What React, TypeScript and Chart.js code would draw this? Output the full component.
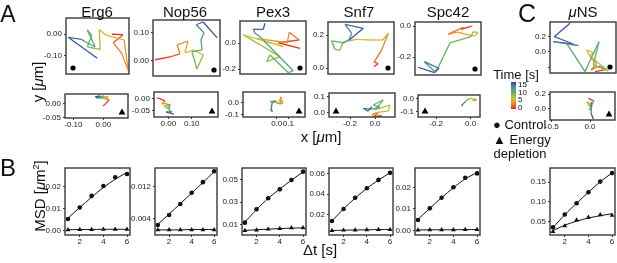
import React, { useEffect, useRef } from "react";
import { Chart, registerables } from "chart.js";
Chart.register(...registerables);

const FONT = "'Liberation Sans', Arial, Helvetica, sans-serif";

// ---------------- Panel A / C : trajectories (control, top row) ----------------
const erg6CtrlX = [0.078, 0.128, 0.085, 0.123, 0.153, 0.134, 0.052, 0.021, 0.025, -0.033, -0.013, -0.033, 0.002, -0.044, -0.059, -0.12, 0.012];
const erg6CtrlY = [-0.001, -0.003, -0.04, -0.088, -0.167, -0.027, -0.005, 0.021, -0.07, -0.058, -0.005, 0.018, -0.058, -0.035, -0.024, -0.015, -0.11];
const nop56CtrlX = [-0.013, 0.041, 0.076, 0.066, 0.105, 0.094, 0.126, 0.159, 0.137, 0.119, 0.155, 0.151, 0.162, 0.134, 0.159, 0.209];
const nop56CtrlY = [0.004, 0.014, 0.025, 0.057, 0.071, 0.029, 0.039, 0.021, -0.029, 0.032, 0.039, 0.075, 0.1, 0.129, 0.139, 0.082];
const pex3CtrlX = [0.212, 0.045, 0.206, 0.129, 0.114, -0.122, 0.083, -0.225, 0.058, -0.045, -0.019, 0.122, 0.16, -0.096, -0.135, -0.148, -0.071, -0.058];
const pex3CtrlY = [-0.041, 0.002, 0.023, 0.082, 0.002, 0.036, -0.028, 0.062, -0.105, -0.144, -0.092, -0.228, -0.213, 0.048, 0.075, 0.105, 0.105, 0.152];
const snf7CtrlX = [0.079, 0.105, 0.079, 0.125, 0.165, 0.131, 0.055, -0.026, -0.107, -0.127, -0.158, -0.178, -0.103, -0.071, -0.056, -0.097, 0.014, -0.071];
const snf7CtrlY = [0.008, 0.028, 0.036, 0.109, 0.21, 0.17, 0.17, 0.174, 0.159, 0.109, 0.113, 0.165, 0.153, 0.174, 0.21, 0.265, 0.241, 0.17];
const spc42CtrlX = [0.166, 0.097, 0.112, 0.015, 0.075, 0.123, 0.183, 0.208, 0.176, 0.161, 0.026, -0.017, -0.05, -0.071, -0.14, -0.045, -0.075, -0.179];
const spc42CtrlY = [0.0, -0.021, -0.008, -0.052, -0.039, -0.052, -0.065, -0.043, -0.037, -0.069, -0.108, -0.198, -0.266, -0.295, -0.23, -0.273, -0.301, -0.266];
const munsCtrlX = [0.181, 0.332, 0.232, 0.129, 0.203, 0.138, 0.074, 0.159, 0.116, 0.352, 0.31, 0.159, 0.232, 0.052, -0.185, -0.035, -0.357, -0.099, -0.345, -0.142];
const munsCtrlY = [-0.254, -0.223, -0.181, -0.232, -0.146, -0.094, 0.026, -0.009, -0.052, -0.245, -0.223, -0.168, 0.133, -0.252, 0.112, 0.081, 0.133, 0.103, 0.197, 0.37];

// ---------------- trajectories (energy depletion, bottom row) ----------------
const erg6EdX = [-0.001, 0.019, 0.006, 0.016, -0.001, 0.009, -0.008, 0.002, -0.014, -0.004, -0.024, -0.011, -0.028];
const erg6EdY = [-0.01, 0.012, 0.019, 0.023, 0.023, 0.015, 0.019, 0.026, 0.023, 0.019, 0.019, 0.026, 0.023];
const nop56EdX = [-0.048, -0.014, -0.027, -0.006, -0.001, -0.018, 0.007, 0.003, 0.016, -0.01, 0.024];
const nop56EdY = [0.006, -0.008, -0.021, -0.017, -0.042, -0.029, -0.021, -0.046, -0.054, -0.054, -0.063];
const pex3EdX = [0.032, 0.041, 0.024, 0.054, 0.037, 0.011, 0.011, -0.015, -0.057, -0.006, -0.04, -0.049, -0.032];
const pex3EdY = [0.044, 0.023, -0.014, -0.006, 0.036, 0.003, -0.014, 0.011, 0.003, 0.011, -0.006, -0.072, -0.072];
const snf7EdX = [0.054, -0.014, 0.026, -0.026, 0.014, 0.106, 0.12, 0.0, 0.066, -0.014, 0.04, -0.026, -0.094, -0.056, -0.024];
const snf7EdY = [-0.022, -0.028, -0.006, -0.017, 0.0, 0.008, 0.047, 0.015, 0.079, 0.047, 0.034, 0.021, 0.026, 0.008, 0.036];
const spc42EdX = [0.013, 0.031, 0.012, 0.036, -0.004, -0.023, -0.033, -0.045, -0.049];
const spc42EdY = [-0.005, -0.013, -0.016, -0.009, -0.001, -0.013, -0.028, -0.043, -0.05];
const munsEdX = [-0.022, 0.052, 0.0, -0.043, 0.022, -0.013, 0.022, 0.0, 0.026, 0.013, 0.043];
const munsEdY = [0.141, 0.103, 0.025, 0.09, 0.062, -0.021, 0.007, 0.052, 0.086, -0.062, -0.145];

// ---------------- Panel B / C : MSD ----------------
const dt = [1, 2, 3, 4, 5, 6];
const erg6MsdCtrl = [0.0053, 0.0105, 0.0158, 0.0203, 0.0243, 0.0258];
const erg6MsdEd = [0.0004, 0.0005, 0.0005, 0.0006, 0.0006, 0.0006];
const erg6FitCtrl = [0.0057, 0.0105, 0.0152, 0.0196, 0.0234, 0.0265];
const erg6FitEd = [0.0004, 0.0005, 0.0005, 0.0006, 0.0006, 0.0006];
const nop56MsdCtrl = [0.0025, 0.005, 0.0077, 0.0105, 0.0131, 0.0158];
const nop56MsdEd = [0.0013, 0.0013, 0.0013, 0.0013, 0.0013, 0.0013];
const nop56FitCtrl = [0.0027, 0.0052, 0.0078, 0.0104, 0.013, 0.0157];
const nop56FitEd = [0.0013, 0.0013, 0.0013, 0.0014, 0.0014, 0.0014];
const pex3MsdCtrl = [0.012, 0.0238, 0.0334, 0.0412, 0.0494, 0.0567];
const pex3MsdEd = [0.005, 0.0055, 0.0063, 0.0068, 0.0074, 0.0075];
const pex3FitCtrl = [0.0125, 0.0235, 0.0333, 0.0415, 0.0492, 0.0565];
const pex3FitEd = [0.0052, 0.0058, 0.0063, 0.0068, 0.0072, 0.0075];
const snf7MsdCtrl = [0.0142, 0.0258, 0.0366, 0.0456, 0.0537, 0.0606];
const snf7MsdEd = [0.005, 0.0054, 0.0056, 0.0058, 0.006, 0.0061];
const snf7FitCtrl = [0.0143, 0.0258, 0.0363, 0.0455, 0.0535, 0.0605];
const snf7FitEd = [0.0051, 0.0054, 0.0056, 0.0058, 0.006, 0.0061];
const spc42MsdCtrl = [0.0049, 0.0103, 0.0152, 0.02, 0.0244, 0.0264];
const spc42MsdEd = [0.0003, 0.0004, 0.0004, 0.0004, 0.0005, 0.0005];
const spc42FitCtrl = [0.0052, 0.0103, 0.0152, 0.0198, 0.0239, 0.0268];
const spc42FitEd = [0.0003, 0.0004, 0.0004, 0.0004, 0.0005, 0.0005];
const munsMsdCtrl = [0.0357, 0.068, 0.0967, 0.1246, 0.1515, 0.173];
const munsMsdEd = [0.0246, 0.039, 0.054, 0.061, 0.067, 0.066];
const munsFitCtrl = [0.0345, 0.0675, 0.0965, 0.1245, 0.151, 0.1735];
const munsFitEd = [0.027, 0.041, 0.051, 0.059, 0.065, 0.07];

// ---------------- tick labels ----------------
const msdXTicks = [2, 4, 6];
const msdXLabels = ["2", "4", "6"];
const colorbarLabels = ["15", "10", "5", "0"];

// ---------------- colour scale (time 0 -> 15 s) ----------------
const TIME_STOPS: [number, number[]][] = [
  [0, [226, 38, 34]],
  [0.18, [240, 128, 40]],
  [0.38, [212, 194, 56]],
  [0.58, [106, 184, 76]],
  [0.78, [78, 156, 150]],
  [1, [58, 70, 170]],
];
function timeColor(f: number) {
  const t = Math.max(0, Math.min(1, f));
  for (let i = 1; i < TIME_STOPS.length; i++) {
    const [t1, c1] = TIME_STOPS[i];
    const [t0, c0] = TIME_STOPS[i - 1];
    if (t <= t1) {
      const u = (t - t0) / (t1 - t0);
      const c = c0.map((v, k) => Math.round(v + (c1[k] - v) * u));
      return `rgb(${c[0]},${c[1]},${c[2]})`;
    }
  }
  return "rgb(58,70,170)";
}

// ---------------- layout ----------------
const P = 10;
const AW = 30;
const AH = 11;

const framePlugin = {
  id: "frame",
  afterDatasetsDraw(chart: any, _args: any, opts: any) {
    const { ctx, chartArea: a } = chart;
    ctx.save();
    ctx.strokeStyle = "#3a3a3a";
    ctx.lineWidth = 1.4;
    ctx.strokeRect(a.left, a.top, a.right - a.left, a.bottom - a.top);
    if (opts && opts.marker) {
      const cx = opts.corner === "bl" ? a.left + 7 : a.right - 6;
      const cy = a.bottom - 6;
      ctx.fillStyle = "#000";
      ctx.beginPath();
      if (opts.marker === "circle") {
        ctx.arc(cx, cy, 2.6, 0, Math.PI * 2);
      } else {
        ctx.moveTo(cx, cy - 3.6);
        ctx.lineTo(cx + 3.4, cy + 2.4);
        ctx.lineTo(cx - 3.4, cy + 2.4);
        ctx.closePath();
      }
      ctx.fill();
    }
    ctx.restore();
  },
};

function yScale(min: number, max: number, ticks: number[], labels: string[]) {
  return {
    type: "linear",
    min,
    max,
    afterBuildTicks: (s: any) => {
      s.ticks = ticks.map((v) => ({ value: v }));
    },
    afterFit: (s: any) => {
      s.width = AW;
    },
    ticks: {
      autoSkip: false,
      padding: 2,
      color: "#222",
      font: { size: 8, family: FONT },
      callback: (_v: any, i: number) => labels[i],
    },
    grid: { display: true, drawOnChartArea: false, drawTicks: true, tickLength: 2, color: "#333" },
    border: { display: false },
  };
}

function xScale(min: number, max: number, ticks?: number[], labels?: string[]) {
  if (!ticks) return { type: "linear", min, max, display: false };
  return {
    type: "linear",
    min,
    max,
    afterBuildTicks: (s: any) => {
      s.ticks = ticks.map((v) => ({ value: v }));
    },
    afterFit: (s: any) => {
      s.height = AH;
    },
    ticks: {
      autoSkip: false,
      maxRotation: 0,
      padding: 0,
      color: "#222",
      font: { size: 8, family: FONT },
      callback: (_v: any, i: number) => (labels ? labels[i] : ""),
    },
    grid: { display: true, drawOnChartArea: false, drawTicks: true, tickLength: 2, color: "#333" },
    border: { display: false },
  };
}

type Box = { x: number; y: number; w: number; h: number };

type TrajSpec = {
  box: Box;
  xr: [number, number];
  yr: [number, number];
  xs: number[];
  ys: number[];
  yT: number[];
  yL: string[];
  xT?: number[];
  xL?: string[];
  marker: string;
  corner: string;
};

const trajSpecs: TrajSpec[] = [
  { box: { x: 66, y: 18, w: 63, h: 56 }, xr: [-0.13, 0.156], yr: [-0.182, 0.073], xs: erg6CtrlX, ys: erg6CtrlY, yT: [0, -0.1], yL: ["0.00", "-0.10"], marker: "circle", corner: "bl" },
  { box: { x: 153, y: 20, w: 67, h: 56 }, xr: [-0.02, 0.219], yr: [-0.054, 0.146], xs: nop56CtrlX, ys: nop56CtrlY, yT: [0.1, 0], yL: ["0.10", "0.00"], marker: "circle", corner: "br" },
  { box: { x: 240, y: 21, w: 66, h: 53 }, xr: [-0.25, 0.258], yr: [-0.238, 0.169], xs: pex3CtrlX, ys: pex3CtrlY, yT: [0, -0.2], yL: ["0.0", "-0.2"], marker: "circle", corner: "br" },
  { box: { x: 328, y: 22, w: 66, h: 52 }, xr: [-0.2, 0.2], yr: [-0.036, 0.279], xs: snf7CtrlX, ys: snf7CtrlY, yT: [0.2, 0], yL: ["0.2", "0.0"], marker: "circle", corner: "br" },
  { box: { x: 415, y: 22, w: 66, h: 53 }, xr: [-0.2, 0.226], yr: [-0.316, 0.026], xs: spc42CtrlX, ys: spc42CtrlY, yT: [0, -0.2], yL: ["0.0", "-0.2"], marker: "circle", corner: "br" },
  { box: { x: 550, y: 22, w: 66, h: 51 }, xr: [-0.4, 0.452], yr: [-0.271, 0.387], xs: munsCtrlX, ys: munsCtrlY, yT: [0.2, 0, -0.2], yL: ["0.2", "0.0", ""], marker: "circle", corner: "br" },

  { box: { x: 65, y: 94, w: 63, h: 24 }, xr: [-0.128, 0.082], yr: [-0.052, 0.033], xs: erg6EdX, ys: erg6EdY, yT: [0, -0.05], yL: ["0.00", "-0.05"], xT: [-0.1, 0], xL: ["-0.10", "0.00"], marker: "triangle", corner: "br" },
  { box: { x: 154, y: 92, w: 64, h: 25 }, xr: [-0.061, 0.212], yr: [-0.075, 0.029], xs: nop56EdX, ys: nop56EdY, yT: [0, -0.05], yL: ["0.00", "-0.05"], xT: [0, 0.1], xL: ["0.00", "0.10"], marker: "triangle", corner: "br" },
  { box: { x: 243, y: 92, w: 62, h: 25 }, xr: [-0.288, 0.242], yr: [-0.122, 0.086], xs: pex3EdX, ys: pex3EdY, yT: [0, -0.1], yL: ["0.0", "-0.1"], xT: [0, 0.1], xL: ["0.0", "0.1"], marker: "triangle", corner: "br" },
  { box: { x: 329, y: 93, w: 66, h: 24 }, xr: [-0.368, 0.16], yr: [-0.03, 0.124], xs: snf7EdX, ys: snf7EdY, yT: [0.1, 0], yL: ["0.1", "0.0"], xT: [-0.2, 0], xL: ["-0.2", "0.0"], marker: "triangle", corner: "bl" },
  { box: { x: 418, y: 95, w: 62, h: 22 }, xr: [-0.305, 0.054], yr: [-0.14, 0.025], xs: spc42EdX, ys: spc42EdY, yT: [0, -0.1], yL: ["0.0", "-0.1"], xT: [-0.2, 0], xL: ["-0.2", "0.0"], marker: "triangle", corner: "bl" },
  { box: { x: 550, y: 92, w: 65, h: 28 }, xr: [-0.522, 0.326], yr: [-0.159, 0.228], xs: munsEdX, ys: munsEdY, yT: [0.2, 0], yL: ["0.2", "0.0"], xT: [-0.5, 0], xL: ["-0.5", "0.0"], marker: "triangle", corner: "br" },
];

type MsdSpec = {
  box: Box;
  yr: [number, number];
  ctrl: number[];
  ed: number[];
  fitCtrl: number[];
  fitEd: number[];
  yT: number[];
  yL: string[];
};

const msdSpecs: MsdSpec[] = [
  { box: { x: 65, y: 168, w: 65, h: 67 }, yr: [-0.002, 0.0285], ctrl: erg6MsdCtrl, ed: erg6MsdEd, fitCtrl: erg6FitCtrl, fitEd: erg6FitEd, yT: [0, 0.01, 0.02], yL: ["0.00", "0.01", "0.02"] },
  { box: { x: 155, y: 168, w: 62, h: 67 }, yr: [0.00004, 0.0166], ctrl: nop56MsdCtrl, ed: nop56MsdEd, fitCtrl: nop56FitCtrl, fitEd: nop56FitEd, yT: [0.004, 0.012], yL: ["0.004", "0.012"] },
  { box: { x: 242, y: 168, w: 64, h: 67 }, yr: [0.0012, 0.0599], ctrl: pex3MsdCtrl, ed: pex3MsdEd, fitCtrl: pex3FitCtrl, fitEd: pex3FitEd, yT: [0.01, 0.03, 0.05], yL: ["0.01", "0.03", "0.05"] },
  { box: { x: 329, y: 168, w: 64, h: 67 }, yr: [0.0008, 0.0651], ctrl: snf7MsdCtrl, ed: snf7MsdEd, fitCtrl: snf7FitCtrl, fitEd: snf7FitEd, yT: [0.02, 0.04, 0.06], yL: ["0.02", "0.04", "0.06"] },
  { box: { x: 415, y: 168, w: 65, h: 67 }, yr: [-0.002, 0.0289], ctrl: spc42MsdCtrl, ed: spc42MsdEd, fitCtrl: spc42FitCtrl, fitEd: spc42FitEd, yT: [0, 0.01, 0.02], yL: ["0.00", "0.01", "0.02"] },
  { box: { x: 550, y: 168, w: 65, h: 67 }, yr: [0.016, 0.186], ctrl: munsMsdCtrl, ed: munsMsdEd, fitCtrl: munsFitCtrl, fitEd: munsFitEd, yT: [0.05, 0.1, 0.15], yL: ["0.05", "0.10", "0.15"] },
];

const baseOptions = {
  animation: false,
  responsive: false,
  maintainAspectRatio: false,
  devicePixelRatio: 1,
  layout: { padding: P },
  events: [],
};

function trajConfig(s: TrajSpec): any {
  const n = s.xs.length;
  return {
    type: "scatter",
    data: {
      datasets: [
        {
          data: s.xs.map((x, i) => ({ x, y: s.ys[i] })),
          showLine: true,
          pointRadius: 0,
          borderWidth: 1.3,
          borderColor: timeColor(0),
          segment: {
            borderColor: (c: any) => timeColor((c.p0DataIndex + 0.5) / (n - 1)),
          },
        },
      ],
    },
    options: {
      ...baseOptions,
      plugins: {
        legend: { display: false },
        tooltip: { enabled: false },
        frame: { marker: s.marker, corner: s.corner },
      },
      scales: {
        x: xScale(s.xr[0], s.xr[1], s.xT, s.xL),
        y: yScale(s.yr[0], s.yr[1], s.yT, s.yL),
      },
    },
    plugins: [framePlugin],
  };
}

function msdConfig(s: MsdSpec): any {
  const pts = (arr: number[]) => dt.map((x, i) => ({ x, y: arr[i] }));
  const line = (arr: number[]) => ({
    data: pts(arr),
    showLine: true,
    pointRadius: 0,
    borderColor: "#111",
    borderWidth: 1,
    tension: 0.3,
  });
  return {
    type: "scatter",
    data: {
      datasets: [
        line(s.fitCtrl),
        line(s.fitEd),
        { data: pts(s.ctrl), pointStyle: "circle", pointRadius: 2.3, backgroundColor: "#111", borderColor: "#111", borderWidth: 0 },
        { data: pts(s.ed), pointStyle: "triangle", pointRadius: 2.8, backgroundColor: "#111", borderColor: "#111", borderWidth: 0 },
      ],
    },
    options: {
      ...baseOptions,
      plugins: { legend: { display: false }, tooltip: { enabled: false }, frame: {} },
      scales: {
        x: xScale(0.75, 6.25, msdXTicks, msdXLabels),
        y: yScale(s.yr[0], s.yr[1], s.yT, s.yL),
      },
    },
    plugins: [framePlugin],
  };
}

function ChartBox({ box, ah, build }: { box: Box; ah: number; build: () => any }) {
  const ref = useRef<HTMLCanvasElement>(null);
  const W = box.w + AW + 2 * P;
  const H = box.h + ah + 2 * P;
  useEffect(() => {
    const chart = new Chart(ref.current as HTMLCanvasElement, build());
    return () => chart.destroy();
  }, []);
  return (
    <canvas
      ref={ref}
      width={W}
      height={H}
      style={{ position: "absolute", left: box.x - AW - P, top: box.y - P, width: W, height: H }}
    />
  );
}

function Txt({ x, y, size, rot, children, left }: any) {
  return (
    <div
      style={{
        position: "absolute",
        left: x,
        top: y,
        fontSize: size,
        lineHeight: 1,
        whiteSpace: "nowrap",
        transform: `${left ? "translate(0,-50%)" : "translate(-50%,-50%)"}${rot ? " rotate(-90deg)" : ""}`,
      }}
    >
      {children}
    </div>
  );
}

const gradient = `linear-gradient(to top, ${TIME_STOPS.map(([t]) => `${timeColor(t)} ${Math.round(t * 100)}%`).join(", ")})`;

export default function App() {
  const titles = [
    { x: 97, label: "Erg6" },
    { x: 185, label: "Nop56" },
    { x: 273, label: "Pex3" },
    { x: 359, label: "Snf7" },
    { x: 448, label: "Spc42" },
  ];
  return (
    <div
      style={{
        position: "fixed",
        left: 0,
        top: 0,
        width: 617,
        height: 263,
        overflow: "hidden",
        background: "#fff",
        fontFamily: FONT,
        color: "#111",
      }}
    >
      {trajSpecs.map((s, i) => (
        <ChartBox key={"t" + i} box={s.box} ah={s.xT ? AH : 0} build={() => trajConfig(s)} />
      ))}
      {msdSpecs.map((s, i) => (
        <ChartBox key={"m" + i} box={s.box} ah={AH} build={() => msdConfig(s)} />
      ))}

      {titles.map((t) => (
        <Txt key={t.label} x={t.x} y={11} size={15}>
          {t.label}
        </Txt>
      ))}
      <Txt x={583} y={11} size={15}>
        <i>μ</i>NS
      </Txt>

      <Txt x={8} y={14} size={23}>A</Txt>
      <Txt x={8} y={168} size={24}>B</Txt>
      <Txt x={527} y={13} size={25}>C</Txt>

      <Txt x={37} y={82} size={15} rot>
        y [<i>μ</i>m]
      </Txt>
      <Txt x={321} y={136} size={15}>
        x [<i>μ</i>m]
      </Txt>
      <Txt x={39} y={196} size={15} rot>
        MSD [<i>μ</i>m<sup style={{ fontSize: 9, verticalAlign: "6px" }}>2</sup>]
      </Txt>
      <Txt x={320} y={249} size={15}>
        Δt [s]
      </Txt>

      <Txt x={516} y={74} size={13}>Time [s]</Txt>
      <div style={{ position: "absolute", left: 511, top: 82, width: 5, height: 27, background: gradient }} />
      {colorbarLabels.map((l, i) => (
        <div
          key={l}
          style={{ position: "absolute", left: 518, top: 85 + i * 7.7 - 4, fontSize: 8, lineHeight: "8px" }}
        >
          {l}
        </div>
      ))}
      <Txt x={493} y={124} size={13} left>
        ● Control
      </Txt>
      <Txt x={493} y={139} size={13} left>
        ▲ Energy
      </Txt>
      <Txt x={520} y={153} size={13}>depletion</Txt>
    </div>
  );
}
